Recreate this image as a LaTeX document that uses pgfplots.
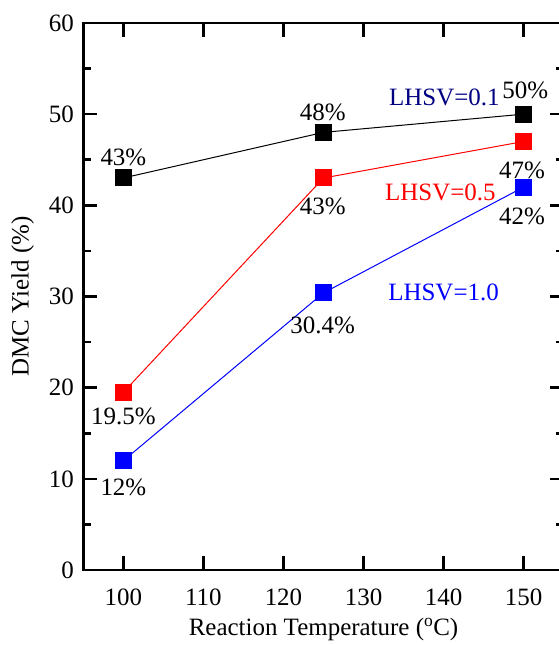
\documentclass[border=0pt]{standalone}
\usepackage{fontspec}
\setmainfont{Liberation Serif}
\usepackage{pgfplots}
\pgfplotsset{compat=1.18}
\definecolor{navyt}{RGB}{0,0,128}
\newcommand{\bigf}{\fontsize{25}{29}\selectfont}
\begin{document}
\begin{tikzpicture}
\begin{axis}[
  scale only axis, width=481pt, height=548pt,
  xmin=95, xmax=155, ymin=0, ymax=60,
  xtick={100,110,...,150}, ytick={0,10,...,60},
  minor ytick={5,15,...,55},
  tick align=inside, tick pos=both,
  major tick length=14pt, minor tick length=8pt,
  axis line style={line width=2.5pt},
  every tick/.style={black, line width=2.5pt},
  /pgf/number format/assume math mode=true,
  ticklabel style={font=\bigf},
  label style={font=\bigf},
  xticklabel style={yshift=-15pt},
  yticklabel style={xshift=-6pt},
  xlabel={Reaction Temperature (\textsuperscript{o}C)},
  ylabel={DMC Yield (\%)},
  xlabel style={yshift=-6pt},
  ylabel style={yshift=8pt},
  clip=false,
]
\addplot[black, line width=1pt, mark=square*, mark size=8pt, mark options={solid}]
  coordinates {(100,43) (125,48) (150,50)};
\addplot[red, line width=1pt, mark=square*, mark size=8pt, mark options={solid}]
  coordinates {(100,19.5) (125,43) (150,47)};
\addplot[blue, line width=1pt, mark=square*, mark size=8pt, mark options={solid}]
  coordinates {(100,12) (125,30.4) (150,42)};
\node[font=\bigf] at (axis cs:100,45.25) {43\%};
\node[font=\bigf] at (axis cs:124.9,50.2) {48\%};
\node[font=\bigf] at (axis cs:150.2,52.6) {50\%};
\node[font=\bigf] at (axis cs:124.9,39.9) {43\%};
\node[font=\bigf] at (axis cs:149.8,43.8) {47\%};
\node[font=\bigf] at (axis cs:149.8,38.8) {42\%};
\node[font=\bigf] at (axis cs:124.9,26.8) {30.4\%};
\node[font=\bigf] at (axis cs:100,16.9) {19.5\%};
\node[font=\bigf] at (axis cs:100,9.1) {12\%};
\node[font=\bigf, text=navyt] at (axis cs:140.1,51.8) {LHSV=0.1};
\node[font=\bigf, text=red] at (axis cs:139.6,41.4) {LHSV=0.5};
\node[font=\bigf, text=blue] at (axis cs:140,30.5) {LHSV=1.0};
\end{axis}
\pgfresetboundingbox
\path[use as bounding box] ([shift={(-83.5pt,-75pt)}]current axis.south west) rectangle ([shift={(-5.5pt,23pt)}]current axis.north east);
\end{tikzpicture}
\end{document}
